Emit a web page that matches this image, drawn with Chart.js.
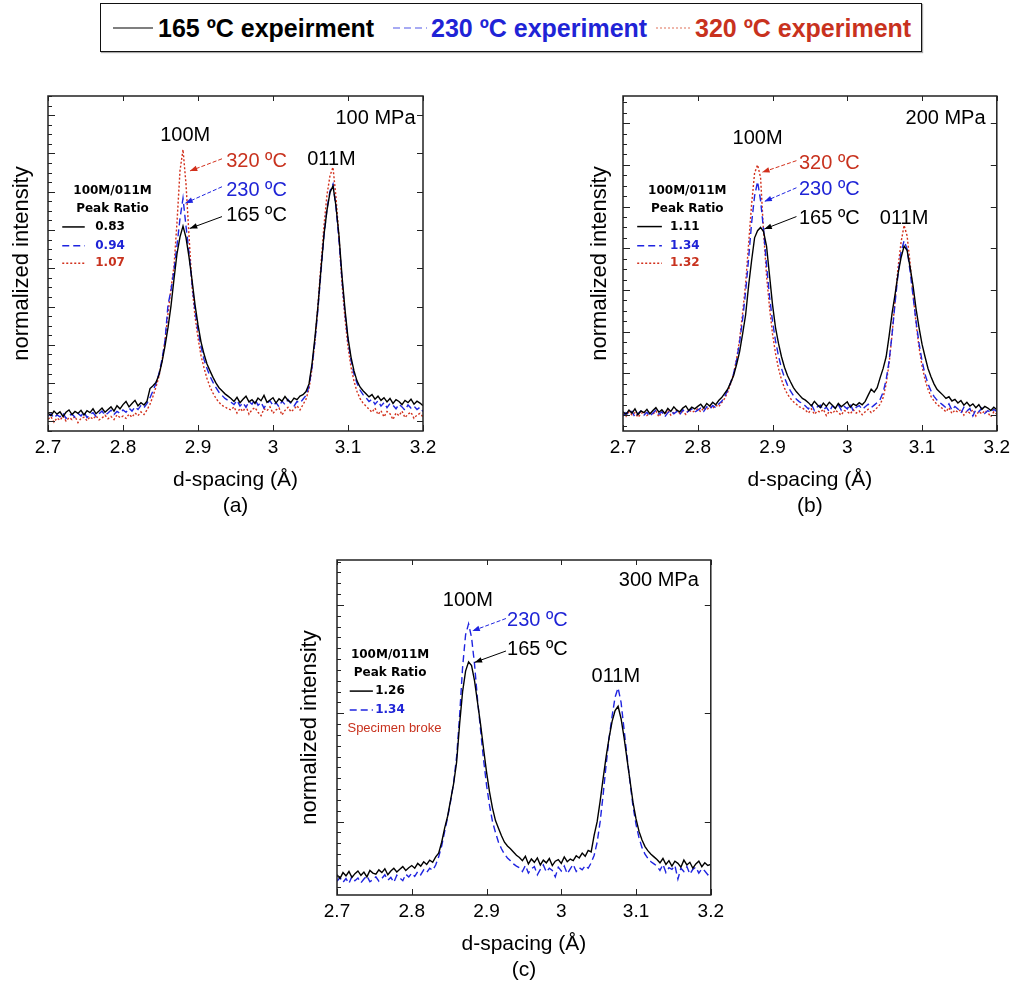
<!DOCTYPE html>
<html>
<head>
<meta charset="utf-8">
<title>100M/011M peak ratio</title>
<script src="https://cdn.jsdelivr.net/npm/chart.js@4/dist/chart.umd.min.js"></script>
<style>
  html, body { margin: 0; padding: 0; background: #fff; overflow: hidden; }
  body { width: 1015px; height: 982px; position: relative; font-family: "Liberation Sans", Arial, sans-serif; }
  canvas { position: absolute; }
  #legend { position: absolute; left: 100px; top: 3px; width: 820px; height: 47px; border: 1.5px solid #111; box-shadow: 1px 1px 1px #aaa; }
  #legend .sw { position: absolute; top: 22px; }
  #legend .lbl { position: absolute; top: 9px; font-size: 25px; font-weight: bold; white-space: nowrap; line-height: 30px; }
</style>
</head>
<body>
<div id="legend">
  <svg class="sw" style="left:12px" width="40" height="4"><line x1="0" y1="2" x2="40" y2="2" stroke="#555" stroke-width="1.5"/></svg>
  <span class="lbl" style="left:57px;color:#000">165 ºC expeirment</span>
  <svg class="sw" style="left:292px" width="34" height="4"><line x1="0" y1="2" x2="34" y2="2" stroke="#8a8ef0" stroke-width="1.5" stroke-dasharray="7 4"/></svg>
  <span class="lbl" style="left:330px;color:#1f24d6">230 ºC experiment</span>
  <svg class="sw" style="left:555px" width="36" height="4"><line x1="0" y1="2" x2="36" y2="2" stroke="#eaa090" stroke-width="1.5" stroke-dasharray="2 2"/></svg>
  <span class="lbl" style="left:594px;color:#c8321e">320 ºC experiment</span>
</div>

<canvas id="panel-a" width="450" height="470" style="left:0;top:60px"></canvas>
<canvas id="panel-b" width="440" height="470" style="left:575px;top:60px"></canvas>
<canvas id="panel-c" width="440" height="470" style="left:289px;top:524px"></canvas>

<script>
const $ = (id) => document.getElementById(id);
const FONT = '"Liberation Sans", Arial, sans-serif';

// ---------- data ----------
// d-spacing grid (Å)
const D_START = 2.7;
const D_STEP = 0.004;
const N_PTS = 126;
const dSpacing = Array.from({ length: N_PTS }, (_, i) => +(D_START + i * D_STEP).toFixed(3));

// (a) 100 MPa
const a165 = [
  0.22, 0.15, 0.27, 0.19, 0.25, 0.13, 0.24, 0.30, 0.18, 0.26,
  0.21, 0.29, 0.17, 0.28, 0.23, 0.33, 0.20, 0.27, 0.35, 0.24,
  0.31, 0.38, 0.27, 0.41, 0.33,
  0.44, 0.52, 0.38, 0.47, 0.55, 0.41, 0.49, 0.43, 0.53,
  0.86, 0.93, 1.02, 1.22, 1.55, 1.97, 2.45, 3.02, 3.72, 4.38, 4.82,
  5.10,
  4.80, 4.30, 3.70, 3.05, 2.52, 2.08, 1.76, 1.50, 1.32, 1.15, 1.00, 0.88, 0.80, 0.72, 0.66,
  0.60, 0.52, 0.63, 0.49, 0.58, 0.66, 0.51, 0.57, 0.47, 0.61, 0.54, 0.68, 0.50, 0.56, 0.62,
  0.48, 0.59, 0.53, 0.65, 0.55, 0.50, 0.61, 0.57, 0.66, 0.70,
  0.78, 0.98, 1.50, 2.20, 3.02, 3.98, 4.88, 5.52, 5.98,
  6.15,
  5.62, 4.85, 3.80, 2.92, 2.18, 1.68, 1.32, 1.06, 0.90, 0.80, 0.72,
  0.64, 0.70, 0.58, 0.66, 0.55, 0.62, 0.51, 0.60, 0.47, 0.57, 0.52, 0.44, 0.55, 0.49, 0.58,
  0.45, 0.53, 0.48, 0.41,
];
const a230 = [
  0.14, 0.20, 0.09, 0.17, 0.12, 0.22, 0.08, 0.16, 0.19, 0.11,
  0.21, 0.14, 0.25, 0.10, 0.18, 0.23, 0.13, 0.20, 0.27, 0.16,
  0.22, 0.29, 0.18, 0.26, 0.21,
  0.30, 0.24, 0.35, 0.27, 0.38, 0.31, 0.42, 0.36, 0.47,
  0.62, 0.80, 1.00, 1.25, 1.62, 2.10, 3.05, 3.42, 3.95, 4.60, 5.30,
  5.83,
  5.10, 4.40, 3.62, 2.90, 2.38, 1.95, 1.62, 1.38, 1.18, 1.02, 0.88, 0.76, 0.68, 0.60, 0.55,
  0.50, 0.44, 0.55, 0.40, 0.49, 0.37, 0.52, 0.45, 0.58, 0.42, 0.50, 0.35, 0.47, 0.54, 0.41,
  0.49, 0.38, 0.53, 0.44, 0.57, 0.46, 0.40, 0.52, 0.48, 0.58,
  0.68, 0.92, 1.42, 2.10, 2.95, 3.92, 4.85, 5.55, 6.02,
  6.20,
  5.58, 4.72, 3.70, 2.82, 2.12, 1.60, 1.24, 1.00, 0.82, 0.70, 0.62,
  0.52, 0.58, 0.45, 0.54, 0.40, 0.49, 0.36, 0.47, 0.42, 0.33, 0.45, 0.38, 0.29, 0.43, 0.35,
  0.40, 0.31, 0.37, 0.26,
];
const a320 = [
  0.06, 0.12, -0.02, 0.09, 0.03, 0.14, 0.01, 0.10, 0.05, 0.13,
  -0.03, 0.08, 0.11, 0.02, 0.12, 0.06, 0.15, 0.04, 0.09, 0.16,
  0.07, 0.13, 0.05, 0.17, 0.10,
  0.14, 0.08, 0.19, 0.11, 0.22, 0.15, 0.25, 0.18, 0.30,
  0.45, 0.66, 0.90, 1.18, 1.58, 2.12, 2.80, 3.48, 4.05, 5.20, 6.55,
  7.10,
  6.20, 4.85, 3.55, 2.75, 2.18, 1.72, 1.40, 1.12, 0.90, 0.74, 0.60, 0.50, 0.42, 0.38, 0.33,
  0.30, 0.38, 0.22, 0.34, 0.26, 0.40, 0.19, 0.31, 0.36, 0.24, 0.15, 0.33, 0.28, 0.38, 0.21,
  0.30, 0.35, 0.17, 0.29, 0.37, 0.25, 0.32, 0.41, 0.30, 0.44,
  0.58, 0.85, 1.38, 2.12, 3.05, 4.10, 5.12, 5.92, 6.42,
  6.64,
  5.85, 4.80, 3.62, 2.68, 1.95, 1.42, 1.05, 0.78, 0.60, 0.48, 0.40,
  0.32, 0.24, 0.35, 0.18, 0.28, 0.12, 0.26, 0.20, 0.05, 0.22, 0.15, 0.27, 0.10, 0.19, 0.24,
  0.08, 0.17, 0.21, 0.12,
];

// (b) 200 MPa
const b165 = [
  0.08, 0.02, 0.12, 0.05, 0.15, 0.01, 0.10, 0.06, 0.14, 0.03,
  0.11, 0.18, 0.07, 0.13, 0.04, 0.16, 0.09, 0.20, 0.12, 0.08,
  0.17, 0.22, 0.11, 0.19, 0.15,
  0.21, 0.26, 0.17, 0.28, 0.22, 0.31, 0.25, 0.35, 0.42,
  0.52, 0.62, 0.78, 0.95, 1.22, 1.52, 1.95, 2.40, 3.10, 3.70, 4.25, 4.42, 4.50, 4.40,
  4.05, 3.35, 2.65, 2.10, 1.72, 1.40, 1.15, 0.95, 0.80, 0.66, 0.56, 0.48, 0.40,
  0.36, 0.30, 0.22, 0.33, 0.25, 0.18, 0.29, 0.21, 0.31, 0.24, 0.16, 0.28, 0.20, 0.26, 0.32,
  0.19, 0.27, 0.23, 0.30, 0.25, 0.33, 0.48, 0.62, 0.55, 0.66,
  0.90, 1.12, 1.40, 1.90, 2.45, 2.90, 3.40, 3.78, 4.05, 3.95, 3.55, 3.10, 2.55, 2.10, 1.70,
  1.40, 1.12, 0.92, 0.75, 0.62, 0.55,
  0.48, 0.40, 0.44, 0.34, 0.38, 0.29, 0.35, 0.24, 0.31, 0.22, 0.27, 0.18, 0.25, 0.14, 0.21,
  0.17, 0.11, 0.19, 0.13,
];
const b230 = [
  -0.02, 0.06, 0.01, 0.09, -0.05, 0.04, 0.10, 0.00, 0.07, -0.03,
  0.05, 0.12, 0.02, 0.08, -0.04, 0.06, 0.11, 0.03, 0.09, 0.01,
  0.13, 0.05, 0.10, 0.15, 0.07,
  0.12, 0.17, 0.09, 0.20, 0.14, 0.23, 0.18, 0.27, 0.33,
  0.45, 0.60, 0.78, 1.00, 1.32, 1.75, 2.30, 2.95, 3.75, 4.60, 5.25, 5.60, 5.15, 4.45,
  3.60, 2.85, 2.25, 1.78, 1.42, 1.12, 0.90, 0.72, 0.58, 0.47, 0.38, 0.32, 0.28,
  0.22, 0.15, 0.26, 0.11, 0.20, 0.24, 0.13, 0.19, 0.08, 0.22, 0.17, 0.25, 0.12, 0.21, 0.15,
  0.27, 0.10, 0.19, 0.23, 0.14, 0.20, 0.26, 0.18, 0.24, 0.30,
  0.38, 0.55, 0.85, 1.30, 1.95, 2.70, 3.40, 3.92, 4.18, 3.98, 3.45, 2.85, 2.25, 1.72, 1.30,
  0.98, 0.75, 0.58, 0.45, 0.36, 0.30,
  0.24, 0.18, 0.27, 0.12, 0.21, 0.15, 0.05, 0.19, 0.10, 0.16, -0.02, 0.13, 0.08, 0.17, 0.04,
  0.11, 0.06, 0.14, 0.09,
];
const b320 = [
  0.04, -0.03, 0.08, 0.01, 0.06, -0.05, 0.03, 0.09, -0.01, 0.05,
  0.02, 0.10, -0.04, 0.07, 0.03, 0.11, 0.00, 0.06, 0.12, 0.04,
  0.09, 0.02, 0.13, 0.07, 0.10,
  0.15, 0.08, 0.18, 0.12, 0.21, 0.16, 0.24, 0.20, 0.30,
  0.40, 0.55, 0.75, 1.00, 1.35, 1.82, 2.45, 3.15, 4.10, 5.05, 5.80, 6.00, 5.70, 4.40,
  3.35, 2.58, 1.95, 1.48, 1.12, 0.85, 0.65, 0.50, 0.40, 0.32, 0.26, 0.20, 0.17,
  0.12, 0.05, 0.15, 0.02, 0.10, 0.07, 0.14, -0.01, 0.09, 0.04, 0.12, 0.06, 0.00, 0.11, 0.08,
  0.03, 0.13, 0.05, 0.10, 0.01, 0.08, 0.14, 0.06, 0.11, 0.18,
  0.26, 0.42, 0.75, 1.25, 1.95, 2.78, 3.55, 4.15, 4.55, 4.30, 3.65, 2.90, 2.20, 1.62, 1.18,
  0.85, 0.62, 0.45, 0.34, 0.26, 0.20,
  0.15, 0.08, 0.18, 0.04, 0.12, 0.07, 0.14, 0.00, 0.10, 0.05, 0.13, -0.02, 0.09, 0.03, 0.11,
  0.06, -0.04, 0.08, 0.02,
];

// (c) 300 MPa, no 320 ºC run (specimen broke)
const c165 = [
  0.02, -0.05, 0.06, 0.00, 0.08, -0.03, 0.04, 0.09, 0.01, 0.07,
  -0.02, 0.10, 0.05, 0.03, 0.11, 0.06, 0.13, 0.02, 0.09, 0.14,
  0.07, 0.12, 0.17, 0.10, 0.15,
  0.19, 0.14, 0.23, 0.18, 0.26, 0.21, 0.29, 0.25, 0.35,
  0.42, 0.62, 0.88, 1.10, 1.40, 1.70, 2.10, 2.80, 3.40, 3.78, 3.95, 3.88, 3.60, 3.20,
  2.80, 2.35, 1.92, 1.55, 1.25, 1.02, 0.88, 0.74, 0.62, 0.55, 0.50, 0.44, 0.38,
  0.34, 0.28, 0.36, 0.22, 0.31, 0.25, 0.33, 0.20, 0.29, 0.24, 0.32, 0.19, 0.27, 0.30, 0.23,
  0.35, 0.26, 0.31, 0.28, 0.37, 0.33, 0.42, 0.36, 0.47, 0.44,
  0.75, 1.00, 1.38, 1.80, 2.20, 2.55, 2.85, 3.05, 3.13, 2.90, 2.55, 2.15, 1.75, 1.35, 1.05,
  0.82, 0.66, 0.54, 0.46, 0.40, 0.35,
  0.30, 0.24, 0.32, 0.21, 0.28, 0.18, 0.27, 0.23, 0.16, 0.29, 0.20, 0.25, 0.14, 0.22, 0.27,
  0.17, 0.24, 0.19, 0.21,
];
const c230 = [
  -0.10, -0.03, -0.12, -0.05, -0.14, -0.01, -0.09, -0.04, -0.13, -0.06,
  0.00, -0.11, -0.07, -0.02, -0.10, -0.05, 0.02, -0.08, -0.03, -0.12,
  0.01, -0.04, -0.09, 0.03, -0.02,
  0.05, -0.01, 0.08, 0.02, 0.11, 0.06, 0.14, 0.10, 0.20,
  0.35, 0.55, 0.82, 1.08, 1.38, 1.72, 2.20, 2.95, 3.85, 4.45, 4.65, 4.40, 3.90, 3.25,
  2.70, 2.15, 1.68, 1.30, 1.00, 0.80, 0.62, 0.50, 0.40, 0.33, 0.28, 0.22, 0.18,
  0.15, 0.08, 0.19, 0.05, 0.13, 0.17, 0.02, 0.12, 0.20, 0.07, 0.14, 0.10, -0.02, 0.16, 0.09,
  0.18, 0.04, 0.13, 0.21, 0.08, 0.15, 0.11, 0.19, 0.14, 0.24,
  0.38, 0.62, 1.00, 1.50, 2.05, 2.55, 2.95, 3.30, 3.47, 3.20, 2.70, 2.20, 1.72, 1.28, 0.95,
  0.70, 0.52, 0.40, 0.32, 0.26, 0.22,
  0.18, 0.10, 0.21, 0.06, 0.15, 0.12, 0.19, -0.06, 0.14, 0.08, 0.17, 0.03, 0.12, 0.16, 0.05,
  0.13, 0.09, 0.02, 0.11,
];

// ---------- styles ----------
const TEMP_STYLE = {
  165: { color: "#000000", dash: [] },
  230: { color: "#1f24e0", dash: [7, 4] },
  320: { color: "#d2301c", dash: [2, 2] },
};
const TEXT_COLOR = { 165: "#000000", 230: "#1f24d6", 320: "#c8321e" };

// 100M / 011M ratio from the two peak maxima (split between the reflections at 2.98 Å)
function peakRatio(vals) {
  let p100 = -Infinity, p011 = -Infinity;
  vals.forEach((v, i) => {
    if (dSpacing[i] < 2.98) p100 = Math.max(p100, v);
    else p011 = Math.max(p011, v);
  });
  return (p100 / p011).toFixed(2);
}

// ---------- plugins ----------
// closed frame with inward ticks on all sides
function frameTicks(p) {
  return {
    id: "frameTicks",
    afterDraw(chart) {
      const { ctx, chartArea: a, scales: { x, y } } = chart;
      ctx.save();
      ctx.strokeStyle = "#222";
      ctx.lineWidth = 1.5;
      ctx.strokeRect(a.left, a.top, a.width, a.height);
      ctx.lineWidth = 1;
      ctx.beginPath();
      const k0 = Math.ceil(p.yMin / p.yMinor - 1e-6);
      for (let k = k0; k * p.yMinor <= p.yMax + 1e-6; k++) {
        const py = Math.round(y.getPixelForValue(k * p.yMinor)) + 0.5;
        ctx.moveTo(a.left, py); ctx.lineTo(a.left + 4, py);
      }
      for (const v of p.yMajor) {
        const py = Math.round(y.getPixelForValue(v)) + 0.5;
        ctx.moveTo(a.left, py); ctx.lineTo(a.left + 7, py);
        ctx.moveTo(a.right, py); ctx.lineTo(a.right - 6, py);
      }
      for (const v of X_TICKS) {
        const px = Math.round(x.getPixelForValue(v)) + 0.5;
        ctx.moveTo(px, a.bottom); ctx.lineTo(px, a.bottom - 6);
        ctx.moveTo(px, a.top); ctx.lineTo(px, a.top + 5);
      }
      ctx.stroke();
      ctx.restore();
    },
  };
}

// peak labels, arrows and the ratio key, placed in data coordinates
function notes(items) {
  return {
    id: "notes",
    afterDraw(chart) {
      const { ctx, scales: { x, y } } = chart;
      ctx.save();
      for (const n of items) {
        if (n.kind === "text") {
          ctx.font = n.font;
          ctx.fillStyle = n.color || "#000";
          ctx.textAlign = n.align || "center";
          ctx.textBaseline = "middle";
          ctx.fillText(n.text, x.getPixelForValue(n.x), y.getPixelForValue(n.y));
        } else if (n.kind === "arrow") {
          const st = TEMP_STYLE[n.temp];
          const x1 = x.getPixelForValue(n.x1), y1 = y.getPixelForValue(n.y1);
          const x2 = x.getPixelForValue(n.x2), y2 = y.getPixelForValue(n.y2);
          ctx.strokeStyle = st.color;
          ctx.fillStyle = st.color;
          ctx.lineWidth = 1;
          ctx.setLineDash(n.temp === 165 ? [] : [4, 2]);
          ctx.beginPath(); ctx.moveTo(x1, y1); ctx.lineTo(x2, y2); ctx.stroke();
          ctx.setLineDash([]);
          const ang = Math.atan2(y2 - y1, x2 - x1);
          ctx.beginPath();
          ctx.moveTo(x2, y2);
          ctx.lineTo(x2 - 8 * Math.cos(ang - 0.35), y2 - 8 * Math.sin(ang - 0.35));
          ctx.lineTo(x2 - 8 * Math.cos(ang + 0.35), y2 - 8 * Math.sin(ang + 0.35));
          ctx.closePath();
          ctx.fill();
        } else if (n.kind === "swatch") {
          const st = TEMP_STYLE[n.temp];
          const py = y.getPixelForValue(n.y);
          ctx.strokeStyle = st.color;
          ctx.lineWidth = 1.5;
          ctx.setLineDash(st.dash);
          ctx.beginPath();
          ctx.moveTo(x.getPixelForValue(n.x1), py);
          ctx.lineTo(x.getPixelForValue(n.x2), py);
          ctx.stroke();
          ctx.setLineDash([]);
        }
      }
      ctx.restore();
    },
  };
}

function ratioKey(series, k) {
  const out = [
    { kind: "text", text: "100M/011M", x: k.x, y: k.y0, font: "bold 12px 'DejaVu Sans'" },
    { kind: "text", text: "Peak Ratio", x: k.x, y: k.y1, font: "bold 12px 'DejaVu Sans'" },
  ];
  series.forEach((s, i) => {
    out.push({ kind: "swatch", temp: s.temp, x1: k.line[0], x2: k.line[1], y: k.rows[i] });
    out.push({ kind: "text", text: peakRatio(s.values), x: k.numX, y: k.rows[i], align: "left",
               color: TEXT_COLOR[s.temp], font: "bold 12px 'DejaVu Sans'" });
  });
  return out;
}

// ---------- panels ----------
const X_TICKS = [2.7, 2.8, 2.9, 3.0, 3.1, 3.2];
const BIG = `20px ${FONT}`;

function makePanel(id, p) {
  const datasets = p.series.map(s => ({
    label: `${s.temp} ºC`,
    data: s.values.map((v, i) => ({ x: dSpacing[i], y: v })),
    borderColor: TEMP_STYLE[s.temp].color,
    borderDash: TEMP_STYLE[s.temp].dash,
    borderWidth: 1.4,
    pointRadius: 0,
    tension: 0,
  }));
  const items = p.notes.concat(ratioKey(p.series, p.key));
  return new Chart($(id), {
    type: "line",
    data: { datasets },
    options: {
      responsive: false,
      animation: false,
      devicePixelRatio: 1,
      layout: { padding: { left: 0, top: 36, right: p.padRight, bottom: 0 } },
      plugins: { legend: { display: false }, tooltip: { enabled: false } },
      scales: {
        x: {
          type: "linear", min: 2.7, max: 3.2,
          grid: { display: false, drawTicks: false },
          border: { display: false },
          ticks: {
            stepSize: 0.1, autoSkip: false, maxRotation: 0, padding: 5, color: "#000",
            font: { size: 19, family: FONT },
            callback: v => String(+v.toFixed(1)),
          },
          title: {
            display: true, text: ["d-spacing (Å)", p.caption], color: "#000",
            font: { size: 21, family: FONT, lineHeight: 1.27 },
            padding: { top: 0, bottom: 10 },
          },
          afterFit: s => { s.height = 99; },
        },
        y: {
          min: p.yMin, max: p.yMax,
          grid: { display: false, drawTicks: false },
          border: { display: false },
          ticks: { display: false },
          title: {
            display: true, text: "normalized intensity", color: "#000",
            font: { size: 22, family: FONT },
            padding: { top: p.titlePad, bottom: 0 },
          },
          afterFit: s => { s.width = 48; },
        },
      },
    },
    plugins: [frameTicks(p), notes(items)],
  });
}

// ---------- boot ----------
makePanel("panel-a", {
  caption: "(a)", padRight: 27, titlePad: 8.5,
  yMin: -0.25, yMax: 8.5, yMinor: 0.25, yMajor: [0, 1, 2, 3, 4, 5, 6, 7, 8],
  series: [{ temp: 165, values: a165 }, { temp: 230, values: a230 }, { temp: 320, values: a320 }],
  key: { x: 2.786, y0: 6.02, y1: 5.55, line: [2.719, 2.749], numX: 2.763, rows: [5.08, 4.59, 4.13] },
  notes: [
    { kind: "text", text: "100 MPa", x: 3.19, y: 7.92, align: "right", font: BIG },
    { kind: "text", text: "100M", x: 2.883, y: 7.48, font: BIG },
    { kind: "text", text: "011M", x: 3.078, y: 6.83, font: BIG },
    { kind: "text", text: "320 ºC", x: 2.978, y: 6.78, font: BIG, color: TEXT_COLOR[320] },
    { kind: "text", text: "230 ºC", x: 2.978, y: 6.04, font: BIG, color: TEXT_COLOR[230] },
    { kind: "text", text: "165 ºC", x: 2.978, y: 5.39, font: BIG, color: TEXT_COLOR[165] },
    { kind: "arrow", temp: 320, x1: 2.932, y1: 6.86, x2: 2.889, y2: 6.54 },
    { kind: "arrow", temp: 230, x1: 2.932, y1: 6.13, x2: 2.883, y2: 5.70 },
    { kind: "arrow", temp: 165, x1: 2.932, y1: 5.35, x2: 2.889, y2: 5.04 },
  ],
});

makePanel("panel-b", {
  caption: "(b)", padRight: 17, titlePad: 11.8,
  yMin: -0.38, yMax: 7.65, yMinor: 0.25, yMajor: [0, 1, 2, 3, 4, 5, 6, 7],
  series: [{ temp: 165, values: b165 }, { temp: 230, values: b230 }, { temp: 320, values: b320 }],
  key: { x: 2.786, y0: 5.37, y1: 4.94, line: [2.719, 2.752], numX: 2.763, rows: [4.52, 4.06, 3.64] },
  notes: [
    { kind: "text", text: "200 MPa", x: 3.185, y: 7.12, align: "right", font: BIG },
    { kind: "text", text: "100M", x: 2.880, y: 6.64, font: BIG },
    { kind: "text", text: "011M", x: 3.076, y: 4.72, font: BIG },
    { kind: "text", text: "320 ºC", x: 2.976, y: 6.04, font: BIG, color: TEXT_COLOR[320] },
    { kind: "text", text: "230 ºC", x: 2.976, y: 5.40, font: BIG, color: TEXT_COLOR[230] },
    { kind: "text", text: "165 ºC", x: 2.976, y: 4.72, font: BIG, color: TEXT_COLOR[165] },
    { kind: "arrow", temp: 320, x1: 2.932, y1: 6.10, x2: 2.886, y2: 5.82 },
    { kind: "arrow", temp: 230, x1: 2.932, y1: 5.45, x2: 2.889, y2: 5.12 },
    { kind: "arrow", temp: 165, x1: 2.932, y1: 4.76, x2: 2.889, y2: 4.46 },
  ],
});

makePanel("panel-c", {
  caption: "(c)", padRight: 17, titlePad: 7.8,
  yMin: -0.354, yMax: 5.83, yMinor: 0.2, yMajor: [1, 3, 5],
  series: [{ temp: 165, values: c165 }, { temp: 230, values: c230 }],
  key: { x: 2.771, y0: 4.08, y1: 3.74, line: [2.717, 2.748], numX: 2.751, rows: [3.41, 3.06] },
  notes: [
    { kind: "text", text: "300 MPa", x: 3.184, y: 5.46, align: "right", font: BIG },
    { kind: "text", text: "100M", x: 2.875, y: 5.09, font: BIG },
    { kind: "text", text: "011M", x: 3.073, y: 3.68, font: BIG },
    { kind: "text", text: "230 ºC", x: 2.968, y: 4.72, font: BIG, color: TEXT_COLOR[230] },
    { kind: "text", text: "165 ºC", x: 2.968, y: 4.17, font: BIG, color: TEXT_COLOR[165] },
    { kind: "arrow", temp: 230, x1: 2.926, y1: 4.75, x2: 2.881, y2: 4.52 },
    { kind: "arrow", temp: 165, x1: 2.926, y1: 4.15, x2: 2.884, y2: 3.94 },
    { kind: "text", text: "Specimen broke", x: 2.714, y: 2.73, align: "left",
      font: `13px ${FONT}`, color: TEXT_COLOR[320] },
  ],
});
</script>
</body>
</html>
